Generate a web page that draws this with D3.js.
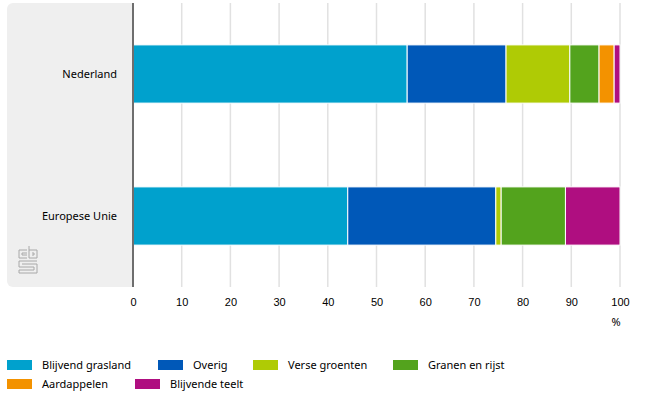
<!DOCTYPE html>
<html>
<head>
<meta charset="utf-8">
<script src="https://cdn.jsdelivr.net/npm/d3@7"></script>
<style>
  body { margin: 0; background: #fff; }
  svg { font-family: "Noto Sans", "Open Sans", sans-serif; }
</style>
</head>
<body>
<svg id="chart" width="652" height="395"></svg>
<script>
const regions = ['Nederland', 'Europese Unie'];
const seriesNames = ['Blijvend grasland', 'Overig', 'Verse groenten', 'Granen en rijst', 'Aardappelen', 'Blijvende teelt'];
const colors = ['#00a1cd', '#0058b8', '#afcb05', '#53a31d', '#f39200', '#af0e80'];
const nederland = [56.3, 20.3, 13.1, 6.0, 3.1, 1.2];
const europeseUnie = [44.1, 30.4, 1.1, 13.2, 0.0, 11.2];
const xTicks = [0, 10, 20, 30, 40, 50, 60, 70, 80, 90, 100];

const svg = d3.select('#chart');
const plot = { left: 133, right: 620, top: 3, bottom: 287 };

// one row per region, one column per series
const table = regions.map((r, i) => {
  const vals = i === 0 ? nederland : europeseUnie;
  const row = { region: r };
  seriesNames.forEach((s, j) => { row[s] = vals[j]; });
  return row;
});
const stacked = d3.stack().keys(seriesNames)(table);

const xScale = d3.scaleLinear().domain([0, 100]).range([plot.left, plot.right]);
const yScale = d3.scaleBand().domain(regions).range([plot.top, plot.bottom]).paddingInner(0.59).paddingOuter(0.295);

// grey panel behind category labels
svg.append('rect')
  .attr('x', 7).attr('y', plot.top)
  .attr('width', plot.left - 7 + 6).attr('height', plot.bottom - plot.top)
  .attr('rx', 6).attr('fill', '#efefef');
svg.append('rect')
  .attr('x', plot.left).attr('y', plot.top)
  .attr('width', 10).attr('height', plot.bottom - plot.top)
  .attr('fill', '#fff');

// gridlines
svg.append('g')
  .selectAll('line')
  .data(xTicks.slice(1))
  .join('line')
  .attr('x1', d => xScale(d)).attr('x2', d => xScale(d))
  .attr('y1', plot.top).attr('y2', plot.bottom)
  .attr('stroke', '#e1e1e1').attr('stroke-width', 1.5);

// bars
svg.append('g')
  .selectAll('g')
  .data(stacked)
  .join('g')
  .attr('fill', (d, i) => colors[i])
  .selectAll('rect')
  .data(d => d)
  .join('rect')
  .attr('x', d => xScale(d[0]))
  .attr('y', d => yScale(d.data.region))
  .attr('width', d => Math.max(0, xScale(d[1]) - xScale(d[0])))
  .attr('height', yScale.bandwidth())
  .attr('stroke', '#fff')
  .attr('stroke-width', d => (d[1] - d[0]) > 0 ? 1 : 0);

// vertical axis line
svg.append('line')
  .attr('x1', plot.left).attr('x2', plot.left)
  .attr('y1', plot.top).attr('y2', plot.bottom)
  .attr('stroke', '#6e6e6e').attr('stroke-width', 2);

// category labels
svg.append('g')
  .selectAll('text')
  .data(regions)
  .join('text')
  .attr('x', 117)
  .attr('y', d => yScale(d) + yScale.bandwidth() / 2)
  .attr('dy', '0.35em')
  .attr('text-anchor', 'end')
  .attr('font-size', 11)
  .attr('fill', '#000')
  .text(d => d);

// x axis
const xAxis = d3.axisBottom(xScale).tickValues(xTicks).tickSize(0).tickPadding(0);
const gx = svg.append('g')
  .attr('transform', `translate(0,${298})`)
  .call(xAxis);
gx.select('.domain').remove();
gx.selectAll('text').attr('font-size', 11).attr('fill', '#000').attr('font-family', null);

svg.append('text')
  .attr('x', xScale(100) - 4).attr('y', 326)
  .attr('text-anchor', 'middle')
  .attr('font-size', 11)
  .text('%');

// cbs logo
const logo = svg.append('g')
  .attr('fill', 'none').attr('stroke', '#a8a8a8').attr('stroke-width', 1);
logo.append('path').attr('d', 'M27,250 H19 V258 H27 M27,253 H22 V255 H27');
logo.append('path').attr('d', 'M29,246 V258 H37 V250 H29 M32,253 H34 V255 H32');
logo.append('path').attr('d', 'M37,261 H19 V267 H34 V270 H19 V273 H37 V264 H22');

// legend
const legendItems = [
  { x: 7, y: 360 }, { x: 158, y: 360 }, { x: 253, y: 360 }, { x: 393, y: 360 },
  { x: 7, y: 379 }, { x: 135, y: 379 }
];
const lg = svg.append('g')
  .selectAll('g')
  .data(seriesNames)
  .join('g')
  .attr('transform', (d, i) => `translate(${legendItems[i].x},${legendItems[i].y})`);
lg.append('rect')
  .attr('width', 25).attr('height', 10)
  .attr('fill', (d, i) => colors[i]);
lg.append('text')
  .attr('x', 35).attr('y', 5).attr('dy', '0.35em')
  .attr('font-size', 11)
  .text(d => d);
</script>
</body>
</html>
